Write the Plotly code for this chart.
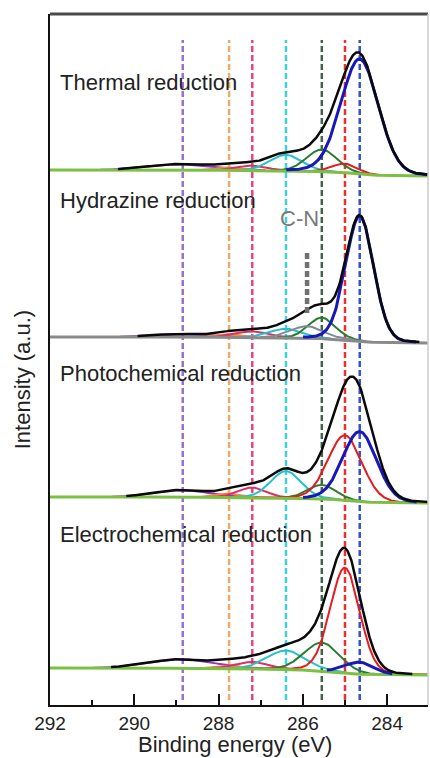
import numpy as np
import plotly.graph_objects as go

# ---------------- data ----------------
panel_names = ["Thermal reduction", "Hydrazine reduction",
               "Photochemical reduction", "Electrochemical reduction"]

# fitted C1s components: purple, orange, crimson, cyan, dark green, red, blue
component_centers = [288.85, 287.75, 287.2, 286.4, 285.55, 285.0, 284.65]

thermal_heights = [6, 3, 5, 16, 22, 9, 115]
thermal_fwhm = [1.8, 0.7, 0.8, 0.9, 0.85, 0.7, 1.05]

hydrazine_heights = [3, 3, 6, 9, 21, 0, 125]
hydrazine_fwhm = [1.6, 0.7, 0.9, 0.9, 0.75, 0.7, 0.78]
hydrazine_cn_center = 285.9
hydrazine_cn_height = 12
hydrazine_cn_fwhm = 0.9

photo_heights = [7, 4, 10, 27, 14, 65, 70]
photo_fwhm = [1.5, 0.7, 0.8, 0.85, 0.8, 0.95, 0.95]

electro_heights = [9, 3, 7, 19, 28, 105, 12]
electro_fwhm = [1.8, 0.7, 0.9, 1.05, 1.0, 0.82, 0.8]

# background (Shirley) step height per panel, a.u.
background_step = [6, 6, 6, 7]

x_ticks = [292, 290, 288, 286, 284]
x_minor_ticks = [291, 289, 287, 285, 283]

# ---------------- layout constants ----------------
panel_offsets = [529, 362, 202, 30]
label_y = [623, 505, 332, 171]
FONT = "Liberation Sans, Arial, Helvetica, sans-serif"
comp_colors = ["#9433c8", "#f08a3c", "#e22c66", "#22c2cc", "#2a7a32", "#e8191f", "#1818b8"]
dash_colors = ["#9a6fd2", "#f2aa68", "#e8467a", "#3fd0dc", "#40644c", "#ec3030", "#3452cc"]
bg_colors = ["#7cc043", "#8a8a8a", "#7cc043", "#7cc043"]

x = np.linspace(283.03, 292.0, 700)


def pv(xv, c, h, w, eta=0.1):
    g = np.exp(-4 * np.log(2) * (xv - c) ** 2 / w ** 2)
    l = 1.0 / (1.0 + 4 * (xv - c) ** 2 / w ** 2)
    return h * ((1 - eta) * g + eta * l)


def masked(y, base, thr):
    out = base + y
    return np.where(y > thr, out, np.nan)


panels = [
    (thermal_heights, thermal_fwhm, None),
    (hydrazine_heights, hydrazine_fwhm, (hydrazine_cn_center, hydrazine_cn_height, hydrazine_cn_fwhm)),
    (photo_heights, photo_fwhm, None),
    (electro_heights, electro_fwhm, None),
]

fig = go.Figure()

for i, (heights, fwhms, cn) in enumerate(panels):
    comps = [pv(x, c, h, w) for c, h, w in zip(component_centers, heights, fwhms)]
    cn_curve = pv(x, *cn) if cn else None
    total = np.sum(comps, axis=0) + (cn_curve if cn is not None else 0)
    # Shirley background: cumulative area from low binding energy side
    cum = np.concatenate([[0], np.cumsum((total[1:] + total[:-1]) / 2 * np.diff(x))])
    bg = panel_offsets[i] + background_step[i] * cum / cum[-1]

    for j in range(6):
        if heights[j] <= 0:
            continue
        fig.add_trace(go.Scatter(x=x, y=masked(comps[j], bg, 0.3), mode="lines",
                                 line=dict(color=comp_colors[j], width=2), hoverinfo="skip"))
    if cn_curve is not None:
        fig.add_trace(go.Scatter(x=x, y=masked(cn_curve, bg, 0.3), mode="lines",
                                 line=dict(color="#7d8a9a", width=2), hoverinfo="skip"))
    fig.add_trace(go.Scatter(x=x, y=bg, mode="lines",
                             line=dict(color=bg_colors[i], width=3), hoverinfo="skip"))
    fig.add_trace(go.Scatter(x=x, y=masked(comps[6], bg, 1.0), mode="lines",
                             line=dict(color=comp_colors[6], width=3), hoverinfo="skip"))
    fig.add_trace(go.Scatter(x=x, y=masked(total, bg, 1.0), mode="lines",
                             line=dict(color="#0a0a0a", width=2.5), hoverinfo="skip"))

shapes = []
for c, col in zip(component_centers, dash_colors):
    shapes.append(dict(type="line", xref="x", yref="y", x0=c, x1=c, y0=5, y1=665,
                       line=dict(color=col, width=2.5, dash="6px,3px"), layer="below"))
# C-N marker
shapes.append(dict(type="line", xref="x", yref="y", x0=hydrazine_cn_center, x1=hydrazine_cn_center,
                   y0=392, y1=455, line=dict(color="#707070", width=4.5, dash="6px,3px")))
# frame: top and right
shapes.append(dict(type="line", xref="paper", yref="paper", x0=0, x1=1, y0=1, y1=1,
                   line=dict(color="#4a4a4a", width=3)))
shapes.append(dict(type="line", xref="paper", yref="paper", x0=1, x1=1, y0=0, y1=1,
                   line=dict(color="#cccccc", width=1.5)))

annotations = []
for name, ly in zip(panel_names, label_y):
    annotations.append(dict(x=291.82, y=ly, xref="x", yref="y", text=name, showarrow=False,
                            xanchor="left", yanchor="middle",
                            font=dict(family=FONT, size=22, color="#222222")))
annotations.append(dict(x=286.09, y=487, xref="x", yref="y", text="C-N", showarrow=False,
                        xanchor="center", yanchor="middle",
                        font=dict(family=FONT, size=22, color="#7a7a7a")))
# y-axis title
annotations.append(dict(x=-0.074, y=0.47, xref="paper", yref="paper", text="Intensity (a.u.)",
                        showarrow=False, textangle=-90, xanchor="center", yanchor="middle",
                        font=dict(family=FONT, size=22, color="#222222")))
# x-axis title
annotations.append(dict(x=0.49, y=-0.0565, xref="paper", yref="paper", text="Binding energy (eV)",
                        showarrow=False, xanchor="center", yanchor="middle",
                        font=dict(family=FONT, size=22, color="#222222")))

fig.update_layout(
    width=430, height=758,
    margin=dict(l=50, r=2, t=14, b=53),
    paper_bgcolor="white", plot_bgcolor="white",
    showlegend=False,
    shapes=shapes, annotations=annotations,
    font=dict(family=FONT, color="#222222"),
    xaxis=dict(range=[292, 283.03], tickvals=x_ticks, ticktext=[str(t) for t in x_ticks],
               ticks="inside", ticklen=11, tickwidth=2, tickcolor="#111",
               showline=True, linecolor="#111", linewidth=2,
               showgrid=False, zeroline=False,
               tickfont=dict(family=FONT, size=19, color="#222222"),
               minor=dict(tickvals=x_minor_ticks, ticks="inside", ticklen=5,
                          tickwidth=2, tickcolor="#111", showgrid=False)),
    yaxis=dict(range=[0, 691], showticklabels=False, ticks="",
               showline=True, linecolor="#111", linewidth=2,
               showgrid=False, zeroline=False),
)

fig.write_html("out.html")
